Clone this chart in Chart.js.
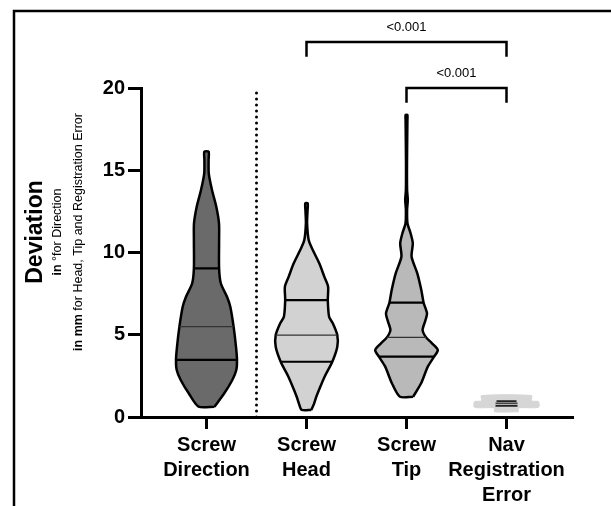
<!DOCTYPE html>
<html><head><meta charset="utf-8">
<script src="https://cdn.jsdelivr.net/npm/chart.js@4"></script>
<style>html,body{margin:0;padding:0;background:#fff}canvas{display:block}</style>
</head><body>
<canvas id="c" width="611" height="506"></canvas>
<script>
// ---------- data ----------
const categories = [["Screw","Direction"],["Screw","Head"],["Screw","Tip"],["Nav","Registration","Error"]];
const xTickValues = [0,1,2,3];
const yTicks = [0,5,10,15,20];

// violin outlines: value levels and relative density (half width) at each level
const directionLevels  = [0.63,1.44,2.25,2.86,3.47,4.27,5.49,6.70,7.31,8.13,9.04,10.76,11.77,12.78,13.8,14.8,15.62,16.13];
const directionDensity = [8,17.8,25.8,29.8,30.5,29.5,27.1,23.8,20.5,14.3,12.6,12.6,12.5,9.8,5.5,2.3,2.1,2.1];
const headLevels  = [0.43,0.8,1.23,1.84,2.45,3.36,4.27,4.98,5.70,6.09,7.11,7.92,8.53,9.34,10.15,10.76,11.77,12.5,12.99];
const headDensity = [4.8,7.5,9.8,13.8,18.1,25.8,30.8,30.8,26.3,22.6,21.3,21.6,17.8,12.8,6.3,2.2,0.6,1.0,1.2];
const tipLevels  = [1.23,2.05,3.06,3.67,4.07,4.45,4.84,5.29,5.8,6.30,6.95,7.72,8.73,9.74,10.56,11.17,11.77,12.6,13.19,13.8,15.5,18.0,18.36];
const tipDensity = [6.6,14.6,21.3,27.6,31.3,26,19.6,16.1,18.5,20.5,17.1,14.8,10.8,5.1,6.3,4.1,1.0,0.6,1.3,0.6,0.5,0.9,0.9];
const navLevels  = [0.32,0.55,0.59,0.93,0.98,1.30];
const navDensity = [12,12,32,32,25,25];

// quartiles [Q1, median, Q3] and density there
const directionQuartiles = [3.47,5.49,9.04];
const directionQDensity  = [30.5,27.1,12.6];
const headQuartiles = [3.36,4.98,7.11];
const headQDensity  = [25.8,30.8,21.3];
const tipQuartiles = [3.67,4.84,6.95];
const tipQDensity  = [27.6,19.6,17.1];
const navQuartiles = [0.68,0.83,0.97];
const navQDensity  = [11,11,10];

// significance comparisons
const comparisonPairs = [[1,3],[2,3]];
const comparisonLabels = ["<0.001","<0.001"];

// ---------- build ----------
const FONT = '"Liberation Sans", Arial, Helvetica, sans-serif';
const W = 0.01; // density -> category units
const bracketTop = [22.8, 20.0];
const bracketLeg = 0.9;

function violin(c, levels, dens) {
  const right = levels.map((v,i)=>({x:c+dens[i]*W, y:v}));
  const left = levels.map((v,i)=>({x:c-dens[i]*W, y:v})).reverse();
  return right.concat(left, [right[0]]);
}
function qLines(c, q, d) {
  return [{x:c-d[0]*W,y:q[0]},{x:c+d[0]*W,y:q[0]},{x:c,y:null},{x:c-d[2]*W,y:q[2]},{x:c+d[2]*W,y:q[2]}];
}
function medLine(c, q, d) {
  return [{x:c-d[1]*W,y:q[1]},{x:c+d[1]*W,y:q[1]}];
}

const groups = [
  {c:0, L:directionLevels, D:directionDensity, Q:directionQuartiles, QD:directionQDensity, fill:'#6a6a6a', border:'#000', bw:2.5},
  {c:1, L:headLevels, D:headDensity, Q:headQuartiles, QD:headQDensity, fill:'#d2d2d2', border:'#000', bw:2.5},
  {c:2, L:tipLevels, D:tipDensity, Q:tipQuartiles, QD:tipQDensity, fill:'#b9b9b9', border:'#000', bw:2.5},
  {c:3, L:navLevels, D:navDensity, Q:navQuartiles, QD:navQDensity, fill:'#d6d6d6', border:'#d6d6d6', bw:1},
];

const datasets = [];
groups.forEach(g => {
  datasets.push({data: violin(g.c,g.L,g.D), backgroundColor:g.fill, borderColor:g.border, borderWidth:g.bw,
    fill:'shape', tension:0.25, pointRadius:0, order:5, borderJoinStyle:'round'});
  datasets.push({data: qLines(g.c,g.Q,g.QD), borderColor: g.c===3?'#222':'#000', borderWidth:g.c===3?1.8:2.2, pointRadius:0, fill:false, spanGaps:false, order:3});
  datasets.push({data: medLine(g.c,g.Q,g.QD), borderColor: g.c===3?'#444':'#333', borderWidth:g.c===3?1.8:1.2, pointRadius:0, fill:false, order:3});
});
// dotted separator
datasets.push({data:[{x:0.5,y:0},{x:0.5,y:20}], borderColor:'#000', borderWidth:3, borderDash:[0,6], borderCapStyle:'round', pointRadius:0, fill:false, order:1});
// brackets
comparisonPairs.forEach((p,i)=>{
  const t = bracketTop[i];
  datasets.push({data:[{x:p[0],y:t-bracketLeg},{x:p[0],y:t},{x:p[1],y:t},{x:p[1],y:t-bracketLeg}],
    borderColor:'#000', borderWidth:2.5, pointRadius:0, fill:false, clip:false, tension:0, order:1, borderJoinStyle:'miter'});
});

const decor = {
  id:'decor',
  beforeDraw(chart){
    const ctx = chart.ctx;
    ctx.save();
    ctx.fillStyle='#fff'; ctx.fillRect(0,0,chart.width,chart.height);
    ctx.strokeStyle='#000'; ctx.lineWidth=2.5;
    ctx.strokeRect(14,11,900,900);
    ctx.restore();
  },
  afterDraw(chart){
    const ctx = chart.ctx, xs = chart.scales.x, ys = chart.scales.y;
    ctx.save();
    ctx.fillStyle='#000';
    ctx.textAlign='center'; ctx.textBaseline='middle';
    ctx.font = '13px ' + FONT;
    comparisonPairs.forEach((p,i)=>{
      ctx.fillText(comparisonLabels[i], xs.getPixelForValue((p[0]+p[1])/2), ys.getPixelForValue(bracketTop[i]+0.9));
    });
    // y axis title
    const cy = 232;
    function mixed(x, boldPart, regPart, size){
      ctx.save();
      ctx.translate(x, cy); ctx.rotate(-Math.PI/2);
      ctx.textAlign='left';
      ctx.font = 'bold '+size+'px '+FONT; const wb = ctx.measureText(boldPart).width;
      ctx.font = size+'px '+FONT; const wr = ctx.measureText(regPart).width;
      const start = -(wb+wr)/2;
      ctx.font = 'bold '+size+'px '+FONT; ctx.fillText(boldPart, start, 0);
      ctx.font = size+'px '+FONT; ctx.fillText(regPart, start+wb, 0);
      ctx.restore();
    }
    mixed(36, 'Deviation', '', 23);
    mixed(57.5, 'in', ' \u00b0for Direction', 12.5);
    mixed(78.5, 'in mm', ' for Head, Tip and Registration Error', 12.5);
    ctx.restore();
  }
};

new Chart(document.getElementById('c'), {
  type:'line',
  data:{datasets},
  plugins:[decor],
  options:{
    responsive:false, animation:false,
    layout:{padding:{left:0, top:88, right:38, bottom:0}},
    plugins:{legend:{display:false}, tooltip:{enabled:false}},
    scales:{
      x:{type:'linear', min:-0.655, max:3.665,
        afterBuildTicks(s){ s.ticks = xTickValues.map(v=>({value:v})); },
        afterFit(s){ s.height = 89; },
        ticks:{autoSkip:false, maxRotation:0, minRotation:0, padding:4, color:'#000',
          font:{family:FONT, size:20, weight:'bold', lineHeight:1.25},
          callback:(v)=>categories[v]},
        grid:{drawOnChartArea:false, drawTicks:true, tickLength:12, tickWidth:3, tickColor:'#000', color:'#000'},
        border:{display:true, color:'#000', width:3}
      },
      y:{type:'linear', min:0, max:20,
        afterBuildTicks(s){ s.ticks = yTicks.map(v=>({value:v})); },
        afterFit(s){ s.width = 141; },
        ticks:{padding:3, color:'#000', font:{family:FONT, size:20, weight:'bold'}},
        grid:{drawOnChartArea:false, drawTicks:true, tickLength:13, tickWidth:3, tickColor:'#000', color:'#000'},
        border:{display:true, color:'#000', width:3}
      }
    }
  }
});
</script>
</body></html>
